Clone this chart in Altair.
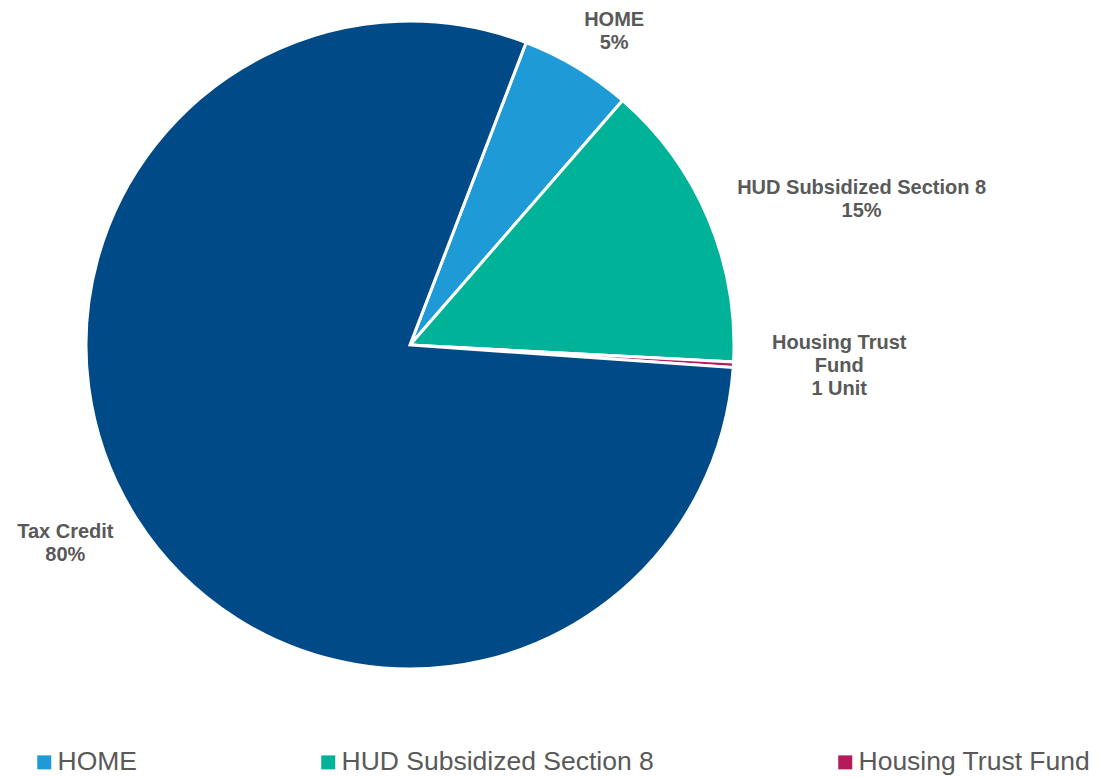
import altair as alt
import pandas as pd
import math

categories = ["HOME", "HUD Subsidized Section 8", "Housing Trust Fund", "Tax Credit"]
units = [20, 52, 1, 287]
label_lines = [["HOME", "5%"], ["HUD Subsidized Section 8", "15%"], ["Housing Trust", "Fund", "1 Unit"], ["Tax Credit", "80%"]]
colors = ["#1E9BD7", "#00B398", "#B51A5A", "#004B87"]

df = pd.DataFrame({"category": categories, "units": units, "order": list(range(len(categories)))})
df["label"] = ["\n".join(l) for l in label_lines]

start = math.radians(21)
theta_scale = alt.Scale(range=[start, start + 2 * math.pi], domain=[0, sum(units)])
color_scale = alt.Scale(domain=categories, range=colors)

base = alt.Chart(df)

pie = base.mark_arc(outerRadius=324, stroke="white", strokeWidth=3).encode(
    theta=alt.Theta("units:Q", stack=True, scale=theta_scale),
    color=alt.Color("category:N", scale=color_scale, sort=categories,
                    legend=alt.Legend(title=None, orient="none", direction="horizontal",
                                      legendX=23, legendY=741,
                                      values=categories[:3],
                                      symbolType="square", symbolSize=196, symbolStrokeWidth=0,
                                      labelFont="Liberation Sans", labelFontSize=26.5,
                                      labelColor="#595959", labelOffset=0,
                                      columnPadding=178, labelLimit=500)),
    order=alt.Order("order:Q"),
)

# (category, radius, dx, dy)
label_style = [
    ("HOME", 375, 11, -4),
    ("HUD Subsidized Section 8", 470, 19, 27),
    ("Housing Trust Fund", 428, 2, -28),
    ("Tax Credit", 398, -9, -27),
]

layers = [pie]
for cat, r, ddx, ddy in label_style:
    t = base.transform_window(
        cum="sum(units)", sort=[alt.SortField("order")]
    ).transform_calculate(
        mid="datum.cum - datum.units / 2",
        lines="split(datum.label, '\\n')"
    ).transform_filter(
        alt.datum.category == cat
    ).mark_text(
        radius=r, dx=ddx, dy=ddy, font="Liberation Sans", fontSize=20, fontWeight="bold",
        color="#595959", lineHeight=23, align="center", baseline="middle"
    ).encode(
        theta=alt.Theta("mid:Q", stack=None, scale=theta_scale),
        text=alt.Text("lines:N"),
    )
    layers.append(t)

chart = alt.layer(*layers).properties(
    width=804, height=674,
    autosize=alt.AutoSizeParams(type="none"),
    padding={"left": 0, "top": 0, "right": 279, "bottom": 100},
).configure_view(stroke=None)

chart.save("out.html", embed_options={"renderer": "svg", "actions": False})
